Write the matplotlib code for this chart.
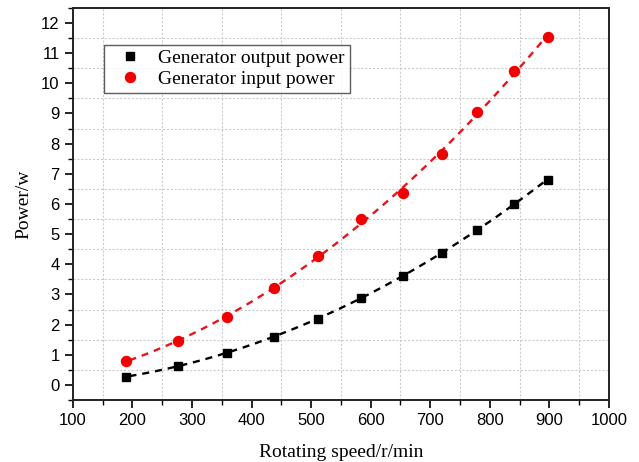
import numpy as np
import matplotlib.pyplot as plt
from matplotlib.ticker import MultipleLocator

speed = [190, 277, 358, 437, 511, 583, 655, 720, 778, 840, 897]
p_out = [0.28, 0.62, 1.07, 1.60, 2.20, 2.88, 3.60, 4.38, 5.15, 6.00, 6.80]
p_in = [0.80, 1.45, 2.27, 3.20, 4.27, 5.50, 6.38, 7.67, 9.05, 10.42, 11.52]

def main():
    fig = plt.figure(figsize=(6.39, 4.62), dpi=100)
    ax = fig.add_axes([0.114, 0.134, 0.839, 0.849])

    x = np.asarray(speed, dtype=float)
    xs = np.linspace(x[0] + 5, x[-1] + 3, 200)
    # quadratic fits drawn as dashed curves
    c_out = np.polyfit(x, p_out, 2)
    c_in = np.polyfit(x, p_in, 2)
    ax.plot(xs, np.polyval(c_out, xs), '--', color='black', lw=1.7, dashes=(3, 2.5))
    ax.plot(xs, np.polyval(c_in, xs), '--', color='#e8141c', lw=1.7, dashes=(3, 2.5))

    ax.plot(x, p_out, 's', color='black', ms=6.3, label='Generator output power')
    ax.plot(x, p_in, 'o', color='#f00000', ms=7.2, label='Generator input power')

    ax.set_xlim(100, 1000)
    ax.set_ylim(-0.5, 12.5)
    ax.xaxis.set_major_locator(MultipleLocator(100))
    ax.xaxis.set_minor_locator(MultipleLocator(50))
    ax.yaxis.set_major_locator(MultipleLocator(1))
    ax.yaxis.set_minor_locator(MultipleLocator(0.5))
    ax.grid(True, which='minor', color='#cccccc', ls='--', lw=0.8, dashes=(2, 1.5))
    ax.grid(False, which='major')
    ax.set_axisbelow(True)
    ax.tick_params(which='major', direction='out', length=6, width=1.2,
                   labelsize=12, top=False, right=False)
    ax.tick_params(which='minor', direction='out', length=3.5, width=1.0,
                   top=False, right=False)
    for lab in ax.get_xticklabels() + ax.get_yticklabels():
        lab.set_family('Liberation Sans')
    for s in ax.spines.values():
        s.set_linewidth(1.4)
        s.set_color('#222222')

    ax.set_xlabel('Rotating speed/r/min', family='Liberation Serif', fontsize=14, labelpad=11)
    ax.set_ylabel('Power/w', family='Liberation Serif', fontsize=14, labelpad=6)

    leg = ax.legend(loc='upper left', bbox_to_anchor=(0.058, 0.906),
                    prop={'family': 'Liberation Serif', 'size': 14},
                    frameon=True, fancybox=False, edgecolor='#333333',
                    handletextpad=0.35, handlelength=2.2, borderpad=0.25,
                    labelspacing=0.15, borderaxespad=0)
    leg.get_frame().set_linewidth(1.0)

    fig.savefig('out.png', dpi=100)
    plt.close(fig)
    return 0

if __name__ == "__main__":
    main()
